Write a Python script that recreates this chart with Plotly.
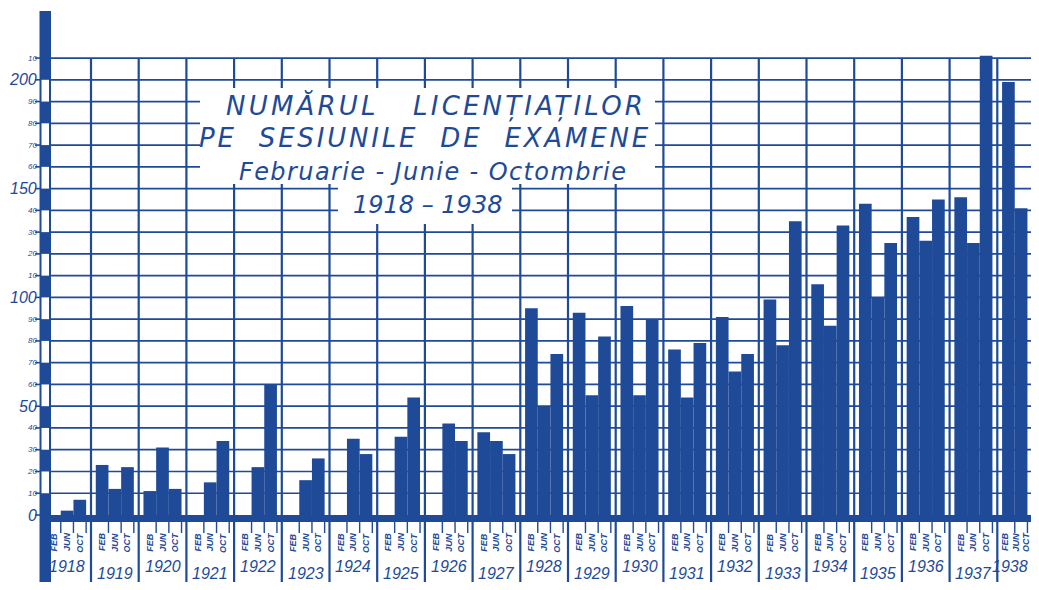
import plotly.graph_objects as go

# data (None = no bar drawn)
years = list(range(1918, 1939))
months = ["FEB", "JUN", "OCT"]
feb = [None, 23, 11, None, None, None, None, None, None, 38, 95, 93, 96, 76, 91, 99, 106, 143, 137, 146, 199]
jun = [2, 12, 31, 15, 22, 16, 35, 36, 42, 34, 50, 55, 55, 54, 66, 78, 87, 100, 126, 125, 141]
oct_ = [7, 22, 12, 34, 60, 26, 28, 54, 34, 28, 74, 82, 90, 79, 74, 135, 133, 125, 145, 211, None]
y_ticks = list(range(0, 220, 10))

BLUE = "#1e4a98"
PAGE = 8          # browser body margin, the figure starts 8px in
VIEW_W = 1031     # what is actually visible of the page width
W, H = VIEW_W - PAGE, 590 - 2 * PAGE

# pixel geometry of the original sheet
X0_PX = 43.3      # left edge of 1918
YEAR_PX = 47.7    # width of a year column
Y0_PX = 515       # zero line
UNIT_PX = 2.176   # pixels per student
LABEL_FONT = "Liberation Sans Narrow, Liberation Sans, Arial"


def px_x(p):
    return (p - X0_PX) / YEAR_PX


def px_y(p):
    return (Y0_PX - p) / UNIT_PX


x_min, x_max = px_x(PAGE), px_x(PAGE + W)
y_min, y_max = px_y(PAGE + H), px_y(PAGE)

bar_w = 0.266
offsets = [0.1 + bar_w * (k + 0.5) for k in range(3)]

fig = go.Figure()
for k, vals in enumerate([feb, jun, oct_]):
    fig.add_trace(go.Bar(
        x=[i + offsets[k] for i in range(len(years))],
        y=vals,
        width=bar_w,
        marker=dict(color=BLUE, line=dict(width=0)),
        name=months[k],
        showlegend=False,
        hoverinfo="y",
    ))

shapes = []
# horizontal grid
for v in y_ticks[1:]:
    shapes.append(dict(type="line", xref="x", yref="y", x0=px_x(50), x1=x_max, y0=v, y1=v,
                       line=dict(color=BLUE, width=1.7), layer="below"))
# year separators
for i in range(1, len(years)):
    shapes.append(dict(type="line", xref="x", yref="y", x0=i, x1=i, y0=y_min, y1=210,
                       line=dict(color=BLUE, width=2.2), layer="below"))

# month ticks under the axis
for i in range(len(years)):
    for t in [0.1 + bar_w, 0.1 + 2 * bar_w, 0.1 + 3 * bar_w]:
        shapes.append(dict(type="line", xref="x", yref="y", x0=i + t, x1=i + t, y0=0, y1=px_y(533),
                           line=dict(color=BLUE, width=1.4), layer="below"))

# white boxes behind the title
shapes.append(dict(type="rect", xref="x", yref="y", x0=px_x(200), x1=px_x(655), y0=px_y(88), y1=px_y(184),
                   fillcolor="white", line=dict(width=0), layer="below"))
shapes.append(dict(type="rect", xref="x", yref="y", x0=px_x(338), x1=px_x(512), y0=px_y(184), y1=px_y(224),
                   fillcolor="white", line=dict(width=0), layer="below"))

# thick zero line
shapes.append(dict(type="rect", xref="x", yref="y", x0=px_x(40), x1=x_max, y0=px_y(522), y1=0,
                   fillcolor=BLUE, line=dict(width=0)))

# left scale bar: alternating dark / white tens
bx0, bx1 = px_x(40.5), px_x(50)
shapes.append(dict(type="rect", xref="x", yref="y", x0=bx0, x1=bx1, y0=y_min, y1=px_y(12),
                   fillcolor="white", line=dict(color=BLUE, width=2)))
shapes.append(dict(type="rect", xref="x", yref="y", x0=bx0, x1=bx1, y0=y_min, y1=10,
                   fillcolor=BLUE, line=dict(width=0)))
for v in range(20, 200, 20):
    shapes.append(dict(type="rect", xref="x", yref="y", x0=bx0, x1=bx1, y0=v, y1=v + 10,
                       fillcolor=BLUE, line=dict(width=0)))
shapes.append(dict(type="rect", xref="x", yref="y", x0=bx0, x1=bx1, y0=200, y1=px_y(12),
                   fillcolor=BLUE, line=dict(width=0)))
# small ticks left of the bar
for v in y_ticks:
    shapes.append(dict(type="line", xref="x", yref="y", x0=px_x(35), x1=bx0, y0=v, y1=v,
                       line=dict(color=BLUE, width=1.6)))

annotations = []
for v in y_ticks:
    big = v % 50 == 0 and v <= 200
    label = str(v) if big else str(v % 100)
    annotations.append(dict(x=px_x(38), y=v, xref="x", yref="y", text="<i>" + label + "</i>",
                            showarrow=False, xanchor="right", yanchor="middle", borderpad=0,
                            font=dict(family=LABEL_FONT, size=16 if big else 8, color=BLUE)))

last = len(years) - 1
# the sheet is cut inside 1938, squeeze its labels so they stay on the page
last_month_px = [1005, 1015.5, 1026]
for i, yr in enumerate(years):
    for k, m in enumerate(months):
        mx = px_x(last_month_px[k]) if i == last else i + offsets[k]
        annotations.append(dict(x=mx, y=px_y(542), xref="x", yref="y", text="<b><i>" + m + "</i></b>",
                                showarrow=False, textangle=-90,
                                font=dict(family=LABEL_FONT, size=9, color=BLUE)))
    yx, anchor = i + 0.5, "center"
    if i == last:
        yx, anchor = px_x(VIEW_W - 1), "right"
    annotations.append(dict(x=yx, y=px_y(566 if i % 2 == 0 else 573), xref="x", yref="y",
                            text="<i>" + str(yr) + "</i>", showarrow=False, xanchor=anchor,
                            font=dict(family=LABEL_FONT, size=16, color=BLUE)))

title_lines = [
    ("NUMĂRUL   LICENȚIAȚILOR", 436, 106, 26, 3.2),
    ("PE  SESIUNILE  DE  EXAMENE", 425, 138, 26, 2.8),
    ("Februarie - Junie - Octombrie", 433, 172, 24, 1.4),
    ("1918 – 1938", 427, 205, 24, 0),
]
for txt, cx, cy, sz, ls in title_lines:
    txt = txt.replace(" ", "\u00a0")
    annotations.append(dict(x=px_x(cx), y=px_y(cy), xref="x", yref="y",
                            text=f'<span style="letter-spacing:{ls}px"><i>{txt}</i></span>',
                            showarrow=False, font=dict(family="DejaVu Sans", size=sz, color=BLUE)))

fig.update_layout(
    width=W, height=H,
    margin=dict(l=0, r=0, t=0, b=0),
    paper_bgcolor="white", plot_bgcolor="white",
    xaxis=dict(range=[x_min, x_max], visible=False, fixedrange=True),
    yaxis=dict(range=[y_min, y_max], visible=False, fixedrange=True),
    shapes=shapes,
    annotations=annotations,
    barmode="overlay",
    showlegend=False,
)

fig.write_html("out.html")
